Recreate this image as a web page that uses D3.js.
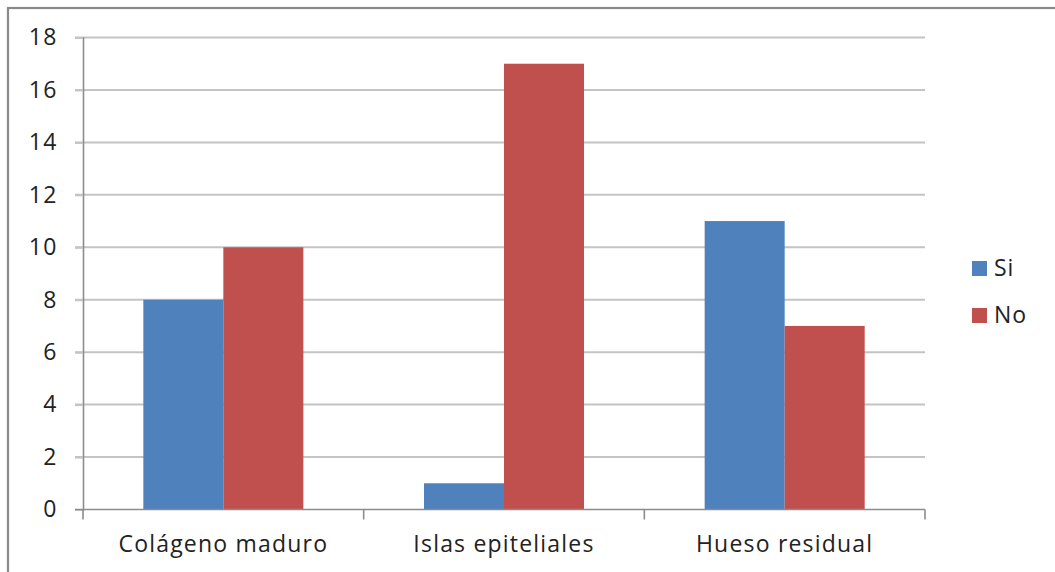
<!DOCTYPE html>
<html>
<head>
<meta charset="utf-8">
<script src="https://cdn.jsdelivr.net/npm/d3@7"></script>
<style>
  html, body { margin: 0; padding: 0; background: #fff; }
  svg { display: block; }
  text { font-family: "Open Sans", "Noto Sans", sans-serif; fill: #222; }
</style>
</head>
<body>
<svg id="chart" width="1055" height="572"></svg>
<script>
// Chart data
const categories = ["Colágeno maduro", "Islas epiteliales", "Hueso residual"];
const seriesNames = ["Si", "No"];
const siValues = [8, 1, 11];
const noValues = [10, 17, 7];
const yTicks = [0, 2, 4, 6, 8, 10, 12, 14, 16, 18];
const colors = ["#4F81BD", "#C0504D"];

const svg = d3.select("#chart");
const W = 1055, H = 572;
const plot = { left: 83, right: 925, top: 37.5, bottom: 509.5 };

// Outer frame (runs off the right and bottom edges)
svg.append("rect")
  .attr("x", 8).attr("y", 8)
  .attr("width", W + 20).attr("height", H + 20)
  .attr("fill", "#fff")
  .attr("stroke", "#8a8a8a").attr("stroke-width", 2.2);

const x0 = d3.scaleBand()
  .domain(categories)
  .range([plot.left, plot.right])
  .paddingInner(0).paddingOuter(0);

const x1 = d3.scaleBand()
  .domain(seriesNames)
  .range([0, x0.bandwidth()])
  .paddingInner(0).paddingOuter(0.754);

const y = d3.scaleLinear().domain([0, 18]).range([plot.bottom, plot.top]);

// Horizontal gridlines
svg.append("g")
  .selectAll("line")
  .data(yTicks.filter(d => d > 0))
  .join("line")
  .attr("x1", plot.left - 8).attr("x2", plot.right)
  .attr("y1", d => y(d)).attr("y2", d => y(d))
  .attr("stroke", "#c4c4c4").attr("stroke-width", 2);

// Bars
const rows = categories.map((c, i) => ({ cat: c, values: [siValues[i], noValues[i]] }));
const groups = svg.append("g")
  .selectAll("g")
  .data(rows)
  .join("g")
  .attr("transform", d => `translate(${x0(d.cat)},0)`);

groups.selectAll("rect")
  .data(d => d.values.map((v, k) => ({ key: seriesNames[k], v, k })))
  .join("rect")
  .attr("x", d => x1(d.key))
  .attr("y", d => y(d.v))
  .attr("width", x1.bandwidth())
  .attr("height", d => y(0) - y(d.v))
  .attr("fill", d => colors[d.k]);

// Y axis
const yAxis = d3.axisLeft(y).tickValues(yTicks).tickSize(8).tickPadding(17);
const gy = svg.append("g").attr("transform", `translate(${plot.left},0)`).call(yAxis);
gy.select(".domain").attr("stroke", "#8c8c8c").attr("stroke-width", 1.6);
gy.selectAll(".tick line").attr("stroke", "#c4c4c4").attr("stroke-width", 2);
gy.selectAll(".tick text")
  .style("font-family", "\"Open Sans\", sans-serif")
  .attr("font-size", 23).attr("fill", "#222")
  .style("letter-spacing", "1.5px");

// X axis baseline with ticks at category boundaries
const gx = svg.append("g");
gx.append("line")
  .attr("x1", plot.left - 8).attr("x2", plot.right)
  .attr("y1", y(0)).attr("y2", y(0))
  .attr("stroke", "#8c8c8c").attr("stroke-width", 1.6);
const boundaries = categories.map(c => x0(c)).concat([x0(categories[categories.length - 1]) + x0.bandwidth()]);
gx.selectAll("line.tk")
  .data(boundaries)
  .join("line")
  .attr("class", "tk")
  .attr("x1", d => d).attr("x2", d => d)
  .attr("y1", y(0)).attr("y2", y(0) + 10)
  .attr("stroke", "#8c8c8c").attr("stroke-width", 1.6);
gx.selectAll("text")
  .data(categories)
  .join("text")
  .attr("x", d => x0(d) + x0.bandwidth() / 2)
  .attr("y", 552)
  .attr("text-anchor", "middle")
  .attr("font-size", 23)
  .style("letter-spacing", "1.2px")
  .text(d => d);

// Legend
const legend = svg.append("g").attr("transform", "translate(972,261)");
const li = legend.selectAll("g")
  .data(seriesNames)
  .join("g")
  .attr("transform", (d, i) => `translate(0,${i * 47})`);
li.append("rect")
  .attr("width", 15).attr("height", 15)
  .attr("fill", (d, i) => colors[i]);
li.append("text")
  .attr("x", 22).attr("y", 15)
  .attr("font-size", 23)
  .style("letter-spacing", "1px")
  .text(d => d);
</script>
</body>
</html>
